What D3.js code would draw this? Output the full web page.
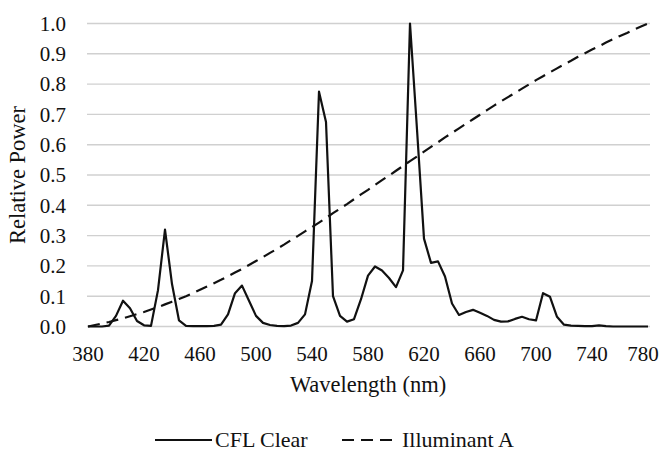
<!DOCTYPE html>
<html>
<head>
<meta charset="utf-8">
<script src="https://cdn.jsdelivr.net/npm/d3@7"></script>
<style>
  html, body { margin: 0; padding: 0; background: #fff; }
  svg { display: block; }
</style>
</head>
<body>
<svg id="chart" width="666" height="453"></svg>
<script>
// ---- data ----
const wavelengths = d3.range(380, 781, 5);
const cflClear = [
  0, 0, 0, 0.003, 0.035, 0.085, 0.06, 0.018, 0.004, 0.002,
  0.12, 0.32, 0.14, 0.02, 0.002, 0.001, 0.001, 0.001, 0.002, 0.006,
  0.04, 0.11, 0.135, 0.085, 0.035, 0.012, 0.005, 0.002, 0.001, 0.003,
  0.012, 0.04, 0.15, 0.775, 0.675, 0.1, 0.035, 0.016, 0.024, 0.09,
  0.168, 0.198, 0.185, 0.16, 0.13, 0.185, 1.0, 0.65, 0.29, 0.21,
  0.215, 0.165, 0.076, 0.038, 0.048, 0.055, 0.045, 0.035, 0.022, 0.016,
  0.017, 0.025, 0.032, 0.024, 0.02, 0.11, 0.098, 0.032, 0.006, 0.003,
  0.002, 0.001, 0.001, 0.004, 0.001, 0, 0, 0, 0, 0, 0
];
const illuminantA = [
  0, 0.005, 0.010, 0.015, 0.021, 0.027, 0.034, 0.041, 0.048, 0.056,
  0.064, 0.073, 0.082, 0.091, 0.100, 0.110, 0.121, 0.132, 0.143, 0.154,
  0.166, 0.178, 0.190, 0.203, 0.216, 0.229, 0.243, 0.256, 0.270, 0.285,
  0.299, 0.314, 0.328, 0.343, 0.358, 0.374, 0.389, 0.404, 0.420, 0.436,
  0.451, 0.467, 0.483, 0.498, 0.514, 0.530, 0.546, 0.561, 0.577, 0.593,
  0.608, 0.624, 0.639, 0.654, 0.669, 0.684, 0.699, 0.714, 0.729, 0.743,
  0.757, 0.771, 0.785, 0.799, 0.813, 0.826, 0.839, 0.852, 0.865, 0.877,
  0.890, 0.902, 0.914, 0.925, 0.937, 0.948, 0.959, 0.969, 0.980, 0.990, 1.0
];
const xTicks = [380, 420, 460, 500, 540, 580, 620, 660, 700, 740, 780];
const yTicks = [0, 0.1, 0.2, 0.3, 0.4, 0.5, 0.6, 0.7, 0.8, 0.9, 1.0];
const seriesNames = ["CFL Clear", "Illuminant A"];

// ---- layout ----
const FONT = "Liberation Serif";
const INK = "#111";
const W = 666;
const svg = d3.select("#chart");
const x = d3.scaleLinear().domain([380, 780]).range([88, 648]);
const y = d3.scaleLinear().domain([0, 1]).range([326.5, 23.5]);

function txt(sel) {
  return sel.attr("font-family", FONT).attr("fill", INK);
}

// gridlines
svg.append("g").selectAll("line").data(yTicks).join("line")
  .attr("x1", x(380) - 1).attr("x2", x(780) + 2)
  .attr("y1", d => y(d)).attr("y2", d => y(d))
  .attr("stroke", "#d0d0d0").attr("stroke-width", 1.4);

// y tick labels
svg.append("g").selectAll("text").data(yTicks).join("text")
  .attr("transform", d => `translate(66, ${y(d)}) rotate(0)`)
  .attr("dy", "0.35em")
  .attr("text-anchor", "end")
  .attr("font-size", 21)
  .call(txt)
  .text(d => d.toFixed(1));

// x tick labels
svg.append("g").selectAll("text").data(xTicks).join("text")
  .attr("transform", d => `translate(${Math.min(x(d), W - 23)}, 361) rotate(0)`)
  .attr("text-anchor", "middle")
  .attr("font-size", 21)
  .call(txt)
  .text(d => d);

// axis titles
svg.append("text")
  .attr("transform", `translate(${x(580)}, 392) rotate(0)`)
  .attr("text-anchor", "middle").attr("font-size", 22.5)
  .call(txt)
  .text("Wavelength (nm)");
svg.append("text")
  .attr("transform", `translate(25, ${y(0.5)}) rotate(-90)`)
  .attr("text-anchor", "middle").attr("font-size", 22.5)
  .call(txt)
  .text("Relative Power");

// lines
const line = d3.line().x((d, i) => x(wavelengths[i])).y(d => y(d));
svg.append("path").datum(illuminantA)
  .attr("d", line).attr("fill", "none")
  .attr("stroke", INK).attr("stroke-width", 2.2)
  .attr("stroke-dasharray", "12,7");
svg.append("path").datum(cflClear)
  .attr("d", line).attr("fill", "none")
  .attr("stroke", INK).attr("stroke-width", 2.2)
  .attr("stroke-linejoin", "round");

// legend
const legend = svg.append("g");
const lx = [155, 342];
legend.selectAll("line").data(seriesNames).join("line")
  .attr("x1", (d, i) => lx[i]).attr("x2", (d, i) => lx[i] + 57)
  .attr("y1", 440).attr("y2", 440)
  .attr("stroke", INK).attr("stroke-width", 2.2)
  .attr("stroke-dasharray", (d, i) => i === 0 ? null : "12,7");
legend.selectAll("text").data(seriesNames).join("text")
  .attr("transform", (d, i) => `translate(${lx[i] + 60}, 447) rotate(0)`)
  .attr("font-size", 22)
  .call(txt)
  .text(d => d);
</script>
</body>
</html>
